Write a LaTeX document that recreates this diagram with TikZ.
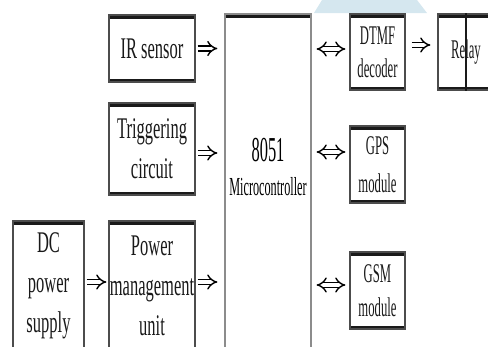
\documentclass[tikz,border=0pt]{standalone}
\usepackage{fontspec}
\setmainfont{Liberation Serif}[FakeStretch=0.55]
\newfontfamily\slimfont{Liberation Serif}[FakeStretch=0.47]
\usetikzlibrary{arrows.meta, positioning}
\definecolor{edgegray}{HTML}{8C8C8C}
\definecolor{rimblack}{HTML}{1A1A1A}
\definecolor{wmblue}{HTML}{D5E7EF}
\tikzset{
  blockbox/.style={rectangle, draw=black!70, line width=1.2pt, inner sep=0pt,
    align=center, text=black!90,
    path picture={\draw[line width=7pt, rimblack]
      (path picture bounding box.north west) -- (path picture bounding box.north east)
      (path picture bounding box.south west) -- (path picture bounding box.south east);}},
  bigtext/.style={font=\fontsize{30}{40}\selectfont},
  smalltext/.style={font=\slimfont\fontsize{27}{33}\selectfont},
  flowarrow/.style={double, double distance=3.8pt, line width=1.4pt,
    -{Implies[scale=1.3]}},
  linkarrow/.style={double, double distance=3.8pt, line width=1.4pt,
    {Implies[scale=1.3]}-{Implies[scale=1.3]}},
}

\begin{document}
\begin{tikzpicture}[x=1pt, y=-1pt]
  \useasboundingbox (0,0) rectangle (488,346);
  \clip (0,0) rectangle (488,346);
  \fill[wmblue] (322,0) -- (417,0) -- (427,13) -- (314,13) -- cycle;

  % left column
  \node[blockbox, bigtext, minimum width=86, minimum height=67]
    (ir) at (152,48.5) {IR sensor};
  \node[blockbox, bigtext, minimum width=86, minimum height=92]
    (trig) at (152,149) {Triggering\\circuit};
  \node[blockbox, bigtext, minimum width=86, minimum height=129]
    (pmu) at (152,285.5) {Power\\management\\unit};
  \node[blockbox, bigtext, minimum width=71, minimum height=129]
    (dc) at (48.5,285.5) {DC\\power\\supply};

  % controller
  \node[blockbox, draw=edgegray, minimum width=86, minimum height=346]
    (mcu) at (268,187) {};
  \node[font=\slimfont\fontsize{35}{36}\selectfont] (mcunum) at (268,150) {8051};
  \node[font=\slimfont\fontsize{26}{28}\selectfont] (mcuname) at (268,187) {Microcontroller};

  % right column
  \node[blockbox, smalltext, minimum width=55, minimum height=76]
    (dtmf) at (377.5,52) {DTMF\\decoder};
  \node[blockbox, smalltext, minimum width=56, minimum height=76]
    (relay) at (466,52) {Relay};
  \draw[rimblack, line width=1.2pt] (relay.north) -- (relay.south);
  \node[blockbox, font=\slimfont\fontsize{27}{38}\selectfont, minimum width=55,
        minimum height=77] (gps) at (377.5,164.5) {GPS\\module};
  \node[blockbox, font=\slimfont\fontsize{27}{34}\selectfont, minimum width=55,
        minimum height=77] (gsm) at (377.5,290.5) {GSM\\module};

  % connectors
  \draw[flowarrow, shorten <=2pt, shorten >=7pt] (ir.east) -- (ir.east -| mcu.west);
  \draw[flowarrow, shorten <=2pt, shorten >=7pt]
    ([yshift=-4pt]trig.east) -- ([yshift=-4pt]trig.east -| mcu.west);
  \draw[flowarrow, shorten <=2pt, shorten >=7pt]
    ([yshift=3.5pt]pmu.east) -- ([yshift=3.5pt]pmu.east -| mcu.west);
  \draw[flowarrow, shorten <=2pt, shorten >=2pt]
    ([yshift=3.5pt]dc.east) -- ([yshift=3.5pt]pmu.west);
  \draw[linkarrow, shorten <=5pt, shorten >=4pt]
    ([yshift=3pt]dtmf.west -| mcu.east) -- ([yshift=3pt]dtmf.west);
  \draw[linkarrow, shorten <=5pt, shorten >=4pt]
    ([yshift=12.5pt]gps.west -| mcu.east) -- ([yshift=12.5pt]gps.west);
  \draw[linkarrow, shorten <=5pt, shorten >=4pt]
    ([yshift=5.5pt]gsm.west -| mcu.east) -- ([yshift=5.5pt]gsm.west);
  \draw[flowarrow, shorten <=6pt, shorten >=7pt]
    ([yshift=7pt]dtmf.east) -- ([yshift=7pt]relay.west);
\end{tikzpicture}
\end{document}
